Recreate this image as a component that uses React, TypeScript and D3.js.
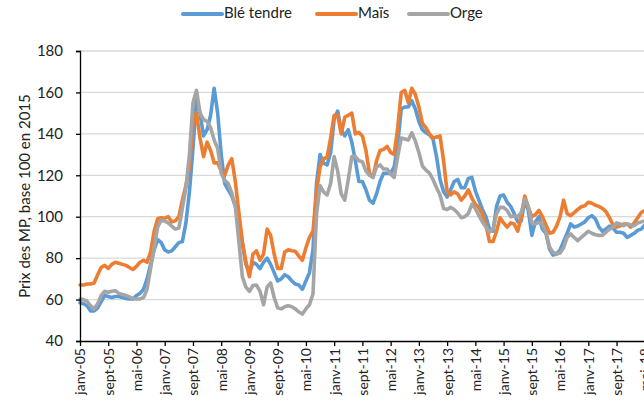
import React, { useRef, useEffect } from 'react';
import * as d3 from 'd3';

// mois en français, utilisés pour les étiquettes de l'axe
const monthNames = ['janv', 'févr', 'mars', 'avr', 'mai', 'juin', 'juil', 'août', 'sept', 'oct', 'nov', 'déc'];
const startYear = 2005;

// indices mensuels à partir de janv-05
const ble = [
  58.5, 58, 57, 54.5, 54.5, 56, 59, 62, 61.5, 61, 61.5, 61.5, 61, 60.5, 60.3, 60.3, 62, 63, 65, 70,
  77, 84, 89, 87.5, 84, 83, 83.5, 85.5, 87.5, 88, 97, 112, 133, 157, 150, 139, 142, 149, 162, 150,
  130, 116, 113, 110, 105, 99, 87, 77, 73, 78, 77, 75, 78, 80, 77, 73, 69, 70, 72, 71,
  69, 67.5, 67, 65, 69, 73, 84, 116, 130, 126, 125, 131, 147, 151, 142, 139, 142, 136, 127, 117,
  117, 113, 108, 106.5, 111, 117, 121, 121, 121, 124, 135, 152, 153, 153, 156, 152, 146, 142, 140.5, 139.5,
  137.5, 129, 118, 112, 109.5, 113, 117, 118, 114, 114, 118.5, 119, 112.5, 108, 103.5, 100, 94, 93, 105, 110,
  110.5, 107, 105, 101.5, 97.5, 98, 108, 103, 91, 97.5, 100, 94, 92, 84.5, 81.5, 82, 84, 88, 92, 96.5,
  95, 95.5, 96.5, 97.5, 99.5, 100.5, 99, 95, 93, 94, 95.5, 94.5, 92.5, 92.5, 92, 90, 91, 92, 93.5, 94,
  96,
];

const mais = [
  67, 67, 67.5, 67.5, 68, 72, 75.5, 76.5, 75, 77, 78, 77.5, 77, 76.5, 75.5, 74.5, 76, 78, 79, 78,
  83, 93, 99, 99.5, 99.3, 100, 97.5, 98, 100, 108, 115, 124, 145, 150, 138, 129, 136, 132, 126, 126,
  122, 120, 125, 128, 117, 102, 88, 78, 71, 82, 83.5, 79, 82, 94, 91, 82, 75, 75, 83, 84,
  83.6, 83.3, 81, 79, 85, 90, 93, 112, 124, 128, 128.7, 138, 149, 149, 140, 148, 149, 150, 140, 140.7,
  139, 132, 121, 119, 127, 132, 132.5, 134, 131, 130, 143, 160, 161, 155, 162, 159, 153, 145, 143, 140,
  138, 138.5, 139, 127, 112, 110.5, 112, 111, 108, 110, 113, 109, 106, 104.5, 101, 96, 88, 88, 93, 99.5,
  97, 95, 97, 96.5, 93, 100, 110, 104.5, 100, 101, 103, 100, 96, 92, 92.5, 95.5, 100, 108, 101.5, 100.5,
  102, 103.5, 104.8, 105.3, 107, 106.5, 105.5, 105, 104, 102.5, 99.5, 96, 95, 95.5, 96.5, 96.5, 95, 97, 99.5, 102,
  103,
];

const orge = [
  60.3, 60, 59.2, 57, 55.5, 58, 62, 64, 63.5, 64, 64.3, 63, 62.5, 62, 61.3, 60.5, 60.3, 60.3, 61, 65,
  75, 85, 95, 98.4, 98, 97, 95.5, 94, 94.5, 104, 114, 130, 155, 161, 150, 147, 146, 143, 137, 133,
  121, 117.5, 116, 111.5, 105, 88, 71, 66, 64, 66.8, 67, 64, 57.5, 66, 68, 61, 56, 55.5, 56.5, 57,
  56.5, 55.5, 54, 53, 55.5, 57.5, 62.7, 101, 115, 112, 110.5, 116, 129, 122, 111, 108, 118, 129, 129, 127,
  126.5, 122, 120, 119, 124, 125, 123, 123, 120.5, 119, 129, 138, 137.5, 137, 140.5, 136.5, 131, 124.5, 122.5, 121,
  118, 114, 110.5, 104, 103.5, 104.5, 103.5, 101.8, 99.5, 100, 101.5, 106, 104, 100.5, 97.5, 95, 92.5, 94, 101.5, 104.5,
  104.5, 103, 100, 100.3, 100, 102, 108.5, 105, 97, 96.5, 97.3, 96.5, 92.5, 85.5, 82.8, 82, 82.5, 85, 90, 91.7,
  90, 88.5, 90, 91.5, 93, 92, 91.3, 91, 91, 92.5, 94, 95, 97, 96.5, 95.7, 96.5, 96, 95.7, 97, 97.5,
  98,
];

const seriesNames = ['Blé tendre', 'Maïs', 'Orge'];
const seriesColors = ['#5B9BD5', '#ED7D31', '#A5A5A5'];
const yTicks = [40, 60, 80, 100, 120, 140, 160, 180];

const monthLabel = (i: number) =>
  `${monthNames[i % 12]}-${String((startYear + Math.floor(i / 12)) % 100).padStart(2, '0')}`;

const App = () => {
  const svgRef = useRef<SVGSVGElement>(null);

  useEffect(() => {
    const svg = d3.select(svgRef.current);
    svg.selectAll('*').remove();

    const width = 644;
    const height = 406;
    const font = 'Lato, "Open Sans", sans-serif';

    const x = d3.scaleLinear().domain([0, 160]).range([80, 644.8]);
    const y = d3.scaleLinear().domain([40, 180]).range([341, 51]);

    // grille horizontale
    svg.append('g')
      .selectAll('line')
      .data(yTicks.filter(t => t > 40))
      .join('line')
      .attr('x1', 80).attr('x2', width)
      .attr('y1', d => y(d)).attr('y2', d => y(d))
      .attr('stroke', '#d9d9d9')
      .attr('stroke-width', 1.3);

    // courbes
    const allSeries = [ble, mais, orge];
    const line = d3.line<number>()
      .x((_, i) => x(i))
      .y(d => y(d));

    svg.append('g')
      .selectAll('path')
      .data(allSeries)
      .join('path')
      .attr('d', d => line(d))
      .attr('fill', 'none')
      .attr('stroke', (_, i) => seriesColors[i])
      .attr('stroke-width', 3.6)
      .attr('stroke-linejoin', 'round')
      .attr('stroke-linecap', 'round');

    // axe Y
    const yAxis = svg.append('g')
      .attr('transform', 'translate(80,0)')
      .call(d3.axisLeft(y).tickValues(yTicks).tickSize(4).tickPadding(13));
    yAxis.select('.domain').attr('stroke', '#000').attr('stroke-width', 1.3);
    yAxis.selectAll('.tick line').attr('stroke', '#000').attr('stroke-width', 1.3);
    yAxis.selectAll('.tick text')
      .attr('font-family', font)
      .attr('font-size', 15)
      .attr('fill', '#222');

    // axe X
    const xTickIdx = d3.range(0, 161, 8);
    const xAxis = svg.append('g')
      .attr('transform', 'translate(0,341)')
      .call(d3.axisBottom(x).tickValues(xTickIdx).tickFormat(d => monthLabel(+d)).tickSize(5).tickSizeOuter(0));
    xAxis.select('.domain').attr('stroke', '#000').attr('stroke-width', 1.3);
    xAxis.selectAll('.tick line').attr('stroke', '#000').attr('stroke-width', 1.3);
    xAxis.selectAll('.tick text')
      .attr('font-family', font)
      .attr('font-size', 14)
      .attr('fill', '#222')
      .attr('transform', 'rotate(-90)')
      .attr('text-anchor', 'end')
      .attr('dy', '0.35em')
      .attr('x', -7)
      .attr('y', 0);

    // titre de l'axe Y
    svg.append('text')
      .attr('transform', `translate(26,${(51 + 341) / 2}) rotate(-90)`)
      .attr('text-anchor', 'middle')
      .attr('dominant-baseline', 'middle')
      .attr('font-family', font)
      .attr('font-size', 15)
      .attr('fill', '#222')
      .text('Prix des MP, base 100 en 2015');

    // légende
    const legendX = [183, 317, 409];
    const legend = svg.append('g')
      .selectAll('g')
      .data(seriesNames)
      .join('g')
      .attr('transform', (_, i) => `translate(${legendX[i]},14)`);
    legend.append('line')
      .attr('x1', 0).attr('x2', 39)
      .attr('y1', 0).attr('y2', 0)
      .attr('stroke', (_, i) => seriesColors[i])
      .attr('stroke-width', 4)
      .attr('stroke-linecap', 'round');
    legend.append('text')
      .attr('x', 41)
      .attr('y', 0)
      .attr('dominant-baseline', 'middle')
      .attr('font-family', font)
      .attr('font-size', 15)
      .attr('fill', '#222')
      .text(d => d);
  }, []);

  return (
    <div style={{ position: 'absolute', left: 0, top: 0 }}>
      <svg ref={svgRef} width={644} height={406} style={{ display: 'block', background: '#fff' }}></svg>
    </div>
  );
};

export default App;
